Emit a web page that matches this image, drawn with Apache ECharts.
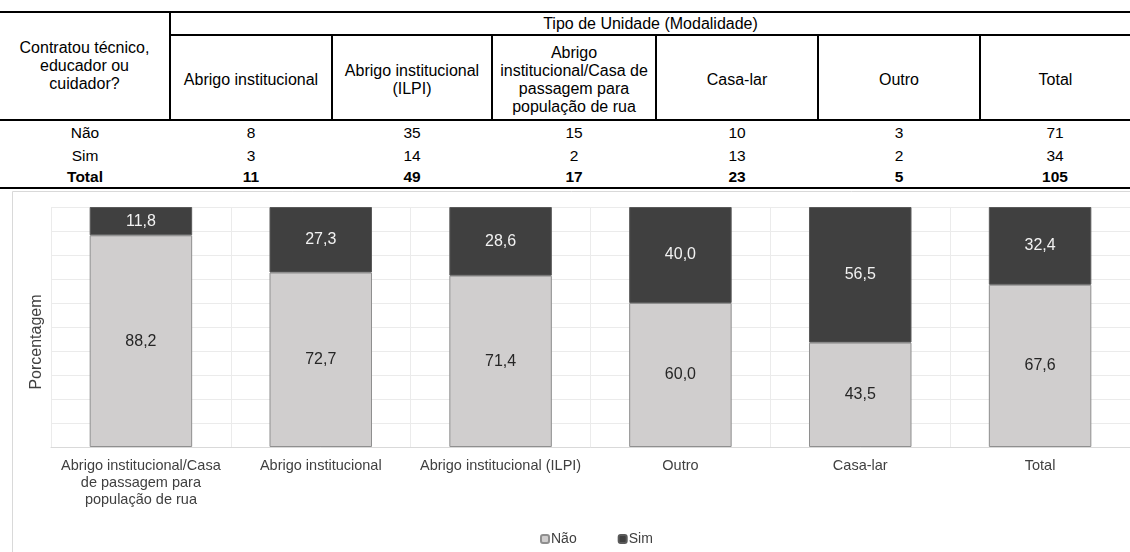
<!DOCTYPE html>
<html>
<head>
<meta charset="utf-8">
<script src="https://cdn.jsdelivr.net/npm/echarts@6/dist/echarts.min.js"></script>
<style>
html,body{margin:0;padding:0;background:#fff;width:1130px;height:552px;overflow:hidden;font-family:"Liberation Sans",Arial,sans-serif;}
#tbl{position:absolute;left:0;top:11px;width:1130px;border-collapse:collapse;table-layout:fixed;color:#000;}
#tbl td{padding:0;text-align:center;vertical-align:middle;white-space:pre-line;}
#tbl .h{font-size:16px;line-height:18px;}
#tbl .hc{padding-top:4px;}
#tbl .d{font-size:15.5px;line-height:18px;}
#tbl .top td{border-top:2px solid #000;}
#tbl .vr{border-right:2px solid #000;}
#tbl .bb{border-bottom:2px solid #000;}
#tbl .b{font-weight:bold;}
#chart{position:absolute;left:0;top:191px;width:1130px;height:361px;}
</style>
</head>
<body>
<table id="tbl"></table>
<div id="chart"></div>
<script>
// ---------- Table data ----------
const tableRowHeader = 'Contratou técnico,\neducador ou\ncuidador?';
const tableGroupHeader = 'Tipo de Unidade (Modalidade)';
const tableColumns = ['Abrigo institucional', 'Abrigo institucional\n(ILPI)', 'Abrigo\ninstitucional/Casa de\npassagem para\npopulação de rua', 'Casa-lar', 'Outro', 'Total'];
const tableRowLabels = ['Não', 'Sim', 'Total'];
const countsNao = [8, 35, 15, 10, 3, 71];
const countsSim = [3, 14, 2, 13, 2, 34];
const countsTotal = [11, 49, 17, 23, 5, 105];

// ---------- Chart data ----------
const categories = ['Abrigo institucional/Casa\nde passagem para\npopulação de rua', 'Abrigo institucional', 'Abrigo institucional (ILPI)', 'Outro', 'Casa-lar', 'Total'];
const pctNao = [88.2, 72.7, 71.4, 60.0, 43.5, 67.6];
const pctSim = [11.8, 27.3, 28.6, 40.0, 56.5, 32.4];
const yTicks = [0, 10, 20, 30, 40, 50, 60, 70, 80, 90, 100];

// ---------- Build table ----------
(function () {
  const colW = [170, 162, 160, 164, 162, 162, 150];
  const t = document.getElementById('tbl');
  let html = '<colgroup>' + colW.map(w => '<col style="width:' + w + 'px">').join('') + '</colgroup>';
  html += '<tr class="top" style="height:23px"><td rowspan="2" class="h vr bb">' + tableRowHeader + '</td>' +
          '<td colspan="6" class="h bb">' + tableGroupHeader + '</td></tr>';
  html += '<tr style="height:85px">' + tableColumns.map((c, i) =>
          '<td class="h hc bb' + (i < tableColumns.length - 1 ? ' vr' : '') + '">' + c + '</td>').join('') + '</tr>';
  const rows = [countsNao, countsSim, countsTotal];
  const hts = [25, 22, 21];
  rows.forEach((r, ri) => {
    const last = ri === rows.length - 1;
    html += '<tr style="height:' + hts[ri] + 'px">';
    const cls = 'd' + (last ? ' b bb' : '');
    html += '<td class="' + cls + '">' + tableRowLabels[ri] + '</td>';
    r.forEach(v => { html += '<td class="' + cls + '">' + v + '</td>'; });
    html += '</tr>';
  });
  t.innerHTML = html;
})();

// ---------- Chart ----------
const FONT = '"Liberation Sans", Arial, sans-serif';
const fmt = p => p.value.toFixed(1).replace('.', ',');
const chart = echarts.init(document.getElementById('chart'), null, { renderer: 'canvas' });
chart.setOption({
  animation: false,
  textStyle: { fontFamily: FONT },
  grid: { left: 51, top: 16, width: 1080, height: 240, containLabel: false },
  graphic: [{
    type: 'rect', silent: true, z: -10,
    shape: { x: 12.5, y: 0.5, width: 1300, height: 500 },
    style: { fill: null, stroke: '#d9d9d9', lineWidth: 1 }
  }],
  legend: {
    data: ['Não', 'Sim'], left: 535, top: 336, itemWidth: 8, itemHeight: 8, itemGap: 41,
    textStyle: { fontSize: 14, color: '#404040', fontFamily: FONT, padding: [0, 0, 0, -3] }
  },
  xAxis: {
    type: 'category', data: categories,
    axisTick: { show: false },
    axisLine: { lineStyle: { color: '#d9d9d9', width: 1 } },
    axisLabel: { interval: 0, margin: 10, fontSize: 14.5, lineHeight: 17, color: '#404040', fontFamily: FONT },
    splitLine: { show: true, lineStyle: { color: '#ebebeb', width: 1 } }
  },
  yAxis: {
    type: 'value', min: yTicks[0], max: yTicks[yTicks.length - 1], interval: yTicks[1] - yTicks[0],
    axisLabel: { show: false }, axisLine: { show: false }, axisTick: { show: false },
    splitLine: { lineStyle: { color: '#ebebeb', width: 1 } },
    name: 'Porcentagem', nameLocation: 'middle', nameGap: 6,
    nameTextStyle: { fontSize: 16, color: '#404040', fontFamily: FONT, padding: [0, 30, 0, 0] }
  },
  series: [
    {
      name: 'Não', type: 'bar', stack: 'a', data: pctNao, barWidth: '57%',
      itemStyle: { color: '#d0cece', borderColor: '#8f8f8f', borderWidth: 1 },
      label: { show: true, position: 'inside', formatter: fmt, fontSize: 16, color: '#262626', fontFamily: FONT }
    },
    {
      name: 'Sim', type: 'bar', stack: 'a', data: pctSim, barWidth: '57%',
      itemStyle: { color: '#404040', borderColor: '#5a5a5a', borderWidth: 1 },
      label: { show: true, position: 'inside', formatter: fmt, fontSize: 16, color: '#f2f2f2', fontFamily: FONT }
    }
  ]
});
</script>
</body>
</html>
